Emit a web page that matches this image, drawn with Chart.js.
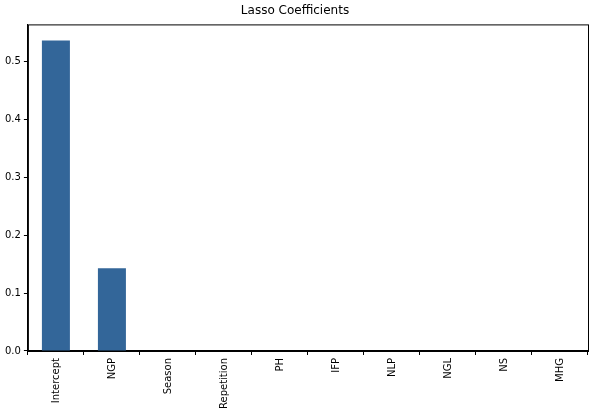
<!DOCTYPE html>
<html>
<head>
<meta charset="utf-8">
<script src="https://cdn.jsdelivr.net/npm/chart.js@4"></script>
<style>
  body { margin: 0; background: #fff; }
  #wrap { width: 595px; height: 414px; }
</style>
</head>
<body>
<div id="wrap"><canvas id="myChart" width="595" height="414"></canvas></div>
<script>
"use strict";
const features = ["Intercept", "NGP", "Season", "Repetition", "PH", "IFP", "NLP", "NGL", "NS", "MHG"];
const coefs = [0.536, 0.143, 0, 0, 0, 0, 0, 0, 0, 0];
const yTicks = [0.0, 0.1, 0.2, 0.3, 0.4, 0.5];

// draw the full box round the plot like matplotlib
const boxPlugin = {
  id: "box",
  afterDraw(chart) {
    const a = chart.chartArea;
    const ctx = chart.ctx;
    ctx.save();
    ctx.strokeStyle = "#000";
    ctx.lineWidth = 1;
    ctx.strokeRect(a.left + 0.5, a.top + 0.5, a.right - a.left, a.bottom - a.top);
    ctx.restore();
  }
};

const ctx = document.getElementById("myChart").getContext("2d");
new Chart(ctx, {
  type: "bar",
  data: {
    labels: features,
    datasets: [{
      data: coefs,
      backgroundColor: "#336699",
      barPercentage: 0.5,
      categoryPercentage: 1.0
    }]
  },
  options: {
    responsive: false,
    animation: false,
    layout: { padding: { left: 2, right: 7, top: 0, bottom: 2 } },
    plugins: {
      legend: { display: false },
      tooltip: { enabled: false },
      title: {
        display: true,
        text: "Lasso Coefficients",
        color: "#000",
        font: { family: "DejaVu Sans", size: 12, weight: "normal" },
        padding: { top: 4, bottom: 6 }
      }
    },
    scales: {
      x: {
        grid: { display: true, drawOnChartArea: false, tickLength: 4, color: "#000" },
        border: { color: "#000" },
        ticks: {
          color: "#000",
          maxRotation: 90,
          minRotation: 90,
          font: { family: "DejaVu Sans", size: 10 }
        }
      },
      y: {
        min: 0,
        max: 0.5638,
        afterBuildTicks(axis) { axis.ticks = yTicks.map(v => ({ value: v })); },
        grid: { display: true, drawOnChartArea: false, tickLength: 4, color: "#000" },
        border: { color: "#000" },
        ticks: {
          color: "#000",
          font: { family: "DejaVu Sans", size: 10 },
          callback: v => v.toFixed(1)
        }
      }
    }
  },
  plugins: [boxPlugin]
});
</script>
</body>
</html>
